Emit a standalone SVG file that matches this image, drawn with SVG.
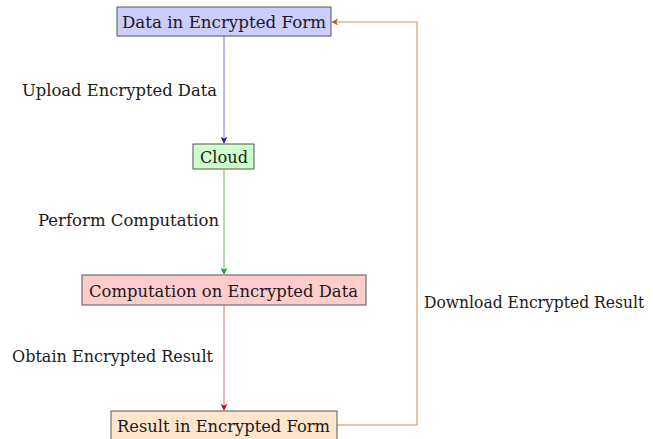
<svg xmlns="http://www.w3.org/2000/svg" width="653" height="439" viewBox="0 0 653 439">
  <style>
    text { font-family: "DejaVu Serif", "Liberation Serif", serif; font-size: 17px; fill: #1a1a1a; }
    .node rect { stroke: #555; stroke-width: 1; }
    .edge { fill: none; stroke-width: 1; }
  </style>
  <defs>
    <marker id="ahBlue" viewBox="0 0 10 10" refX="9" refY="5" markerWidth="7" markerHeight="7" markerUnits="userSpaceOnUse" orient="auto">
      <path d="M0,0 L10,5 L0,10 L3,5 Z" fill="#1c1ca8"/>
    </marker>
    <marker id="ahGreen" viewBox="0 0 10 10" refX="9" refY="5" markerWidth="7" markerHeight="7" markerUnits="userSpaceOnUse" orient="auto">
      <path d="M0,0 L10,5 L0,10 L3,5 Z" fill="#1a9a1a"/>
    </marker>
    <marker id="ahRed" viewBox="0 0 10 10" refX="9" refY="5" markerWidth="7" markerHeight="7" markerUnits="userSpaceOnUse" orient="auto">
      <path d="M0,0 L10,5 L0,10 L3,5 Z" fill="#a01a1a"/>
    </marker>
    <marker id="ahOrange" viewBox="0 0 10 10" refX="9" refY="5" markerWidth="7" markerHeight="7" markerUnits="userSpaceOnUse" orient="auto">
      <path d="M0,0 L10,5 L0,10 L3,5 Z" fill="#b06020"/>
    </marker>
  </defs>

  <g id="connectors">
    <path class="edge" d="M224,36 V143" stroke="#7777cc" marker-end="url(#ahBlue)"/>
    <path class="edge" d="M224,169 V274" stroke="#66bb66" marker-end="url(#ahGreen)"/>
    <path class="edge" d="M224,305 V410" stroke="#cc7777" marker-end="url(#ahRed)"/>
    <path class="edge" d="M337,425 H417 V22 H332" stroke="#c8905a" marker-end="url(#ahOrange)"/>
    <text x="22" y="96" textLength="195" lengthAdjust="spacingAndGlyphs">Upload Encrypted Data</text>
    <text x="38" y="226" textLength="181" lengthAdjust="spacingAndGlyphs">Perform Computation</text>
    <text x="12" y="362" textLength="201" lengthAdjust="spacingAndGlyphs">Obtain Encrypted Result</text>
    <text transform="translate(424,308) scale(0.85,1)" x="0" y="0" textLength="259" lengthAdjust="spacingAndGlyphs">Download Encrypted Result</text>
  </g>

  <g id="data-encrypted" class="node">
    <rect x="117" y="7" width="214" height="29" fill="#ccccff"/>
    <text x="122" y="28" textLength="204" lengthAdjust="spacingAndGlyphs">Data in Encrypted Form</text>
  </g>
  <g id="cloud" class="node">
    <rect x="193" y="144" width="61" height="25" fill="#ccffcc"/>
    <text x="200" y="163" textLength="48" lengthAdjust="spacingAndGlyphs">Cloud</text>
  </g>
  <g id="computation" class="node">
    <rect x="82" y="275" width="284" height="30" fill="#ffcccc"/>
    <text x="89" y="297" textLength="269" lengthAdjust="spacingAndGlyphs">Computation on Encrypted Data</text>
  </g>
  <g id="result-encrypted" class="node">
    <rect x="111" y="411" width="226" height="32" fill="#ffe5cc"/>
    <text x="117" y="432" textLength="213" lengthAdjust="spacingAndGlyphs">Result in Encrypted Form</text>
  </g>
</svg>
